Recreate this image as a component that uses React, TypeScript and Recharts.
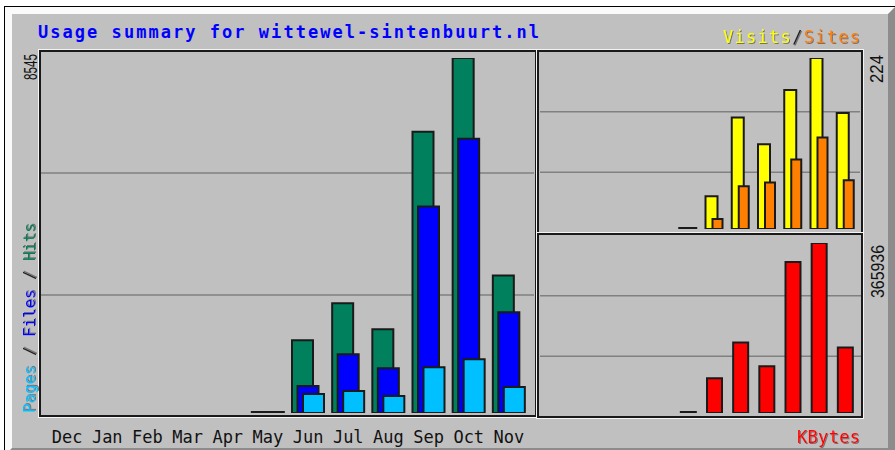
import { BarChart, Bar, XAxis, YAxis, CartesianGrid } from 'recharts';

const MONTHS = ['Dec', 'Jan', 'Feb', 'Mar', 'Apr', 'May', 'Jun', 'Jul', 'Aug', 'Sep', 'Oct', 'Nov'];
const HITS = [null, null, null, null, null, 0, 1752, 2640, 2016, 6769, 8545, 3312];
const FILES = [null, null, null, null, null, 0, 648, 1416, 1080, 4969, 6601, 2424];
const PAGES = [null, null, null, null, null, 0, 456, 528, 408, 1104, 1296, 624];
const VISITS = [null, null, null, null, null, 0, 43, 146, 111, 182, 224, 152];
const SITES = [null, null, null, null, null, 0, 13, 56, 61, 91, 120, 64];
const KBYTES = [null, null, null, null, null, 0, 74900, 151900, 100600, 325300, 365936, 141200];

const HITS_MAX = 8545;
const VISITS_MAX = 224;
const KBYTES_MAX = 365936;

const C_HITS = '#00805C';
const C_FILES = '#0000FF';
const C_PAGES = '#00C0FF';
const C_VISITS = '#FFFF00';
const C_SITES = '#FF8000';
const C_KBYTES = '#FF0000';
const BG = '#C0C0C0';
const GRID = '#808080';
const EDGE = '#1a1a1a';
const MONO = '"DejaVu Sans Mono", monospace';
const SANS = '"Liberation Sans", Arial, sans-serif';

const rows = MONTHS.map((m, i) => ({
  month: m,
  hits: HITS[i],
  files: FILES[i],
  pages: PAGES[i],
  visits: VISITS[i],
  sites: SITES[i],
  kbytes: KBYTES[i],
}));

// zero months get a flat black stub, empty months get nothing
const zeroStub = (v: number | null | undefined) => (v === 0 ? 1 : 0);

// grid lines sit at thirds of each framed panel
const thirds = (panelH: number) => [2 + (panelH - 2) / 3, 2 + (2 * (panelH - 2)) / 3];

function MonthTick(props: any) {
  const { x, y, payload } = props;
  return (
    <text x={x} y={y + 30} textAnchor="middle" fontFamily={MONO} fontSize={17} fill="#111">
      {payload.value}
    </text>
  );
}

const panel = (left: number, top: number, w: number, h: number) => ({
  position: 'absolute' as const,
  left,
  top,
  width: w,
  height: h,
  boxSizing: 'border-box' as const,
  border: `2px solid ${EDGE}`,
  boxShadow: '0 0 0 1px #f4f4f4',
});

export default function App() {
  return (
    <div style={{ position: 'absolute', left: 0, top: 0, width: 895, height: 450, overflow: 'hidden', background: '#fff' }}>
      <div style={{ position: 'absolute', left: 4, top: 6, width: 900, height: 460, borderTop: '1px solid #000', borderLeft: '1px solid #000' }} />
      <div
        style={{
          position: 'absolute',
          left: 5,
          top: 7,
          width: 890,
          height: 448,
          boxSizing: 'border-box',
          background: BG,
          borderTop: '7px solid #fafafa',
          borderLeft: '7px solid #fafafa',
          borderRight: '7px solid #8c8c8c',
          borderBottom: '7px solid #8c8c8c',
        }}
      />

      <div style={panel(39, 50, 498, 367)} />
      <div style={panel(537, 50, 326, 184)} />
      <div style={panel(537, 233, 326, 185)} />

      <div style={{ position: 'absolute', left: 38, top: 49 }}>
        <BarChart width={499} height={398} data={rows} margin={{ top: 9, right: 8, bottom: 0, left: 9 }} barGap={-15.5} barCategoryGap={0}>
          <CartesianGrid vertical={false} horizontalPoints={thirds(368)} x={3} width={493} stroke={GRID} strokeWidth={1.5} />
          <XAxis dataKey="month" axisLine={false} tickLine={false} tickSize={0} tickMargin={0} height={34} interval={0} tick={<MonthTick />} />
          <YAxis hide domain={[0, HITS_MAX]} allowDataOverflow />
          <Bar dataKey="hits" fill={C_HITS} stroke={EDGE} strokeWidth={2} barSize={21} minPointSize={zeroStub} isAnimationActive={false} />
          <Bar dataKey="files" fill={C_FILES} stroke={EDGE} strokeWidth={2} barSize={21} minPointSize={zeroStub} isAnimationActive={false} />
          <Bar dataKey="pages" fill={C_PAGES} stroke={EDGE} strokeWidth={2} barSize={21} minPointSize={zeroStub} isAnimationActive={false} />
        </BarChart>
      </div>

      <div style={{ position: 'absolute', left: 537, top: 49 }}>
        <BarChart width={325} height={184} data={rows} margin={{ top: 9, right: 4, bottom: 4, left: 6 }} barGap={-5} barCategoryGap={0}>
          <CartesianGrid vertical={false} horizontalPoints={thirds(184)} x={3} width={320} stroke={GRID} strokeWidth={1.5} />
          <XAxis dataKey="month" hide />
          <YAxis hide domain={[0, VISITS_MAX]} allowDataOverflow />
          <Bar dataKey="visits" fill={C_VISITS} stroke={EDGE} strokeWidth={2} barSize={12} minPointSize={zeroStub} isAnimationActive={false} />
          <Bar dataKey="sites" fill={C_SITES} stroke={EDGE} strokeWidth={2} barSize={10} minPointSize={zeroStub} isAnimationActive={false} />
        </BarChart>
      </div>

      <div style={{ position: 'absolute', left: 537, top: 233 }}>
        <BarChart width={326} height={184} data={rows} margin={{ top: 10, right: 5, bottom: 4, left: 7 }} barCategoryGap={0}>
          <CartesianGrid vertical={false} horizontalPoints={thirds(184)} x={3} width={321} stroke={GRID} strokeWidth={1.5} />
          <XAxis dataKey="month" hide />
          <YAxis hide domain={[0, KBYTES_MAX]} allowDataOverflow />
          <Bar dataKey="kbytes" fill={C_KBYTES} stroke={EDGE} strokeWidth={2} barSize={15} minPointSize={zeroStub} isAnimationActive={false} />
        </BarChart>
      </div>

      <svg width={895} height={450} style={{ position: 'absolute', left: 0, top: 0, pointerEvents: 'none' }}>
        <defs>
          <filter id="shade" x="-5%" y="-20%" width="110%" height="140%">
            <feDropShadow dx={1} dy={1} stdDeviation={0.4} floodColor="#6a6a6a" floodOpacity={0.9} />
          </filter>
        </defs>
        <text x={38} y={38} fontFamily={MONO} fontWeight="bold" fontSize={17} fill={C_FILES} textLength={501} lengthAdjust="spacing">
          Usage summary for wittewel-sintenbuurt.nl
        </text>
        <text x={723} y={43} fontFamily={MONO} fontSize={17} textLength={137} lengthAdjust="spacing" filter="url(#shade)">
          <tspan fill={C_VISITS}>Visits</tspan>
          <tspan fill="#222">/</tspan>
          <tspan fill={C_SITES}>Sites</tspan>
        </text>
        <text transform="translate(35, 413) rotate(-90)" fontFamily={MONO} fontSize={16} textLength={190} lengthAdjust="spacing" filter="url(#shade)">
          <tspan fill={C_PAGES}>Pages</tspan>
          <tspan fill="#222"> / </tspan>
          <tspan fill={C_FILES}>Files</tspan>
          <tspan fill="#222"> / </tspan>
          <tspan fill={C_HITS}>Hits</tspan>
        </text>
        <text x={797} y={443} fontFamily={MONO} fontSize={17} fill={C_KBYTES} textLength={63} lengthAdjust="spacing" filter="url(#shade)">
          KBytes
        </text>
        <text transform="translate(37, 80) rotate(-90)" fontFamily={SANS} fontSize={18} fill="#111" textLength={26} lengthAdjust="spacingAndGlyphs">
          {String(HITS_MAX)}
        </text>
        <text transform="translate(883, 83) rotate(-90)" fontFamily={SANS} fontSize={18} fill="#111" textLength={28} lengthAdjust="spacingAndGlyphs">
          {String(VISITS_MAX)}
        </text>
        <text transform="translate(884, 298) rotate(-90)" fontFamily={SANS} fontSize={18} fill="#111" textLength={53} lengthAdjust="spacingAndGlyphs">
          {String(KBYTES_MAX)}
        </text>
      </svg>
    </div>
  );
}
